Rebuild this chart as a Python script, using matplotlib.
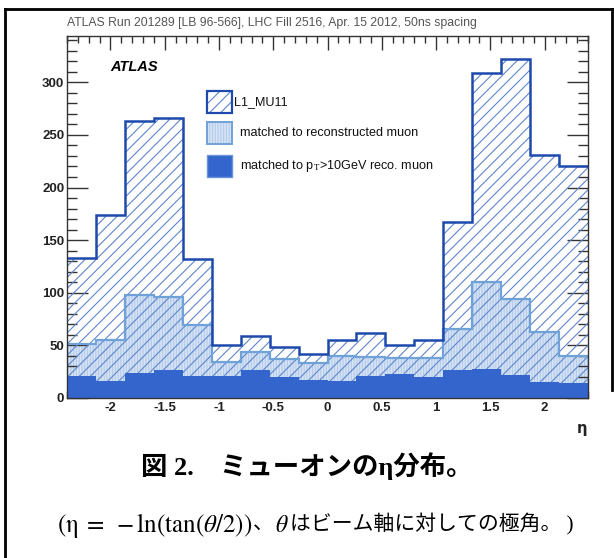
import matplotlib
matplotlib.use("Agg")
import matplotlib.pyplot as plt
from matplotlib.patches import Rectangle
from matplotlib.lines import Line2D
from matplotlib.ticker import MultipleLocator
import numpy as np

# ---------------- data ----------------
eta_edges = np.linspace(-2.4, 2.4, 19)
l1_mu11 = [133, 174, 263, 266, 132, 50, 59, 48, 42,
           55, 62, 50, 55, 167, 309, 322, 231, 220]
matched_reco = [51, 55, 98, 96, 69, 34, 44, 37, 33,
                40, 39, 38, 38, 66, 110, 94, 63, 40]
matched_pt10 = [21, 16, 24, 27, 21, 21, 27, 20, 17,
                16, 21, 23, 20, 27, 28, 22, 15, 14]
xticks = [-2, -1.5, -1, -0.5, 0, 0.5, 1, 1.5, 2]
yticks = [0, 50, 100, 150, 200, 250, 300]
legend_labels = ["L1_MU11", "matched to reconstructed muon",
                 "matched to p$_{\\mathrm{T}}$>10GeV reco. muon"]
title_text = "ATLAS Run 201289 [LB 96-566], LHC Fill 2516, Apr. 15 2012, 50ns spacing"
caption1 = "図 2.\u3000ミューオンのη分布。"
caption2_parts = [r"$(\mathrm{\eta}\;=\;-\mathrm{ln}(\mathrm{tan}(\theta/2))$",
                  "、", r"$\theta$", "はビーム軸に対しての極角。 )"]

# ---------------- style ----------------
plt.rcParams['axes.unicode_minus'] = False
plt.rcParams['hatch.linewidth'] = 0.8
plt.rcParams['mathtext.fontset'] = 'stix'
W, H = 614, 558
fig = plt.figure(figsize=(W / 100, H / 100), dpi=100)

def fx(x):
    return x / W

def fy(y):
    return 1 - y / H

ax_l, ax_r, ax_t, ax_b = 67, 588, 36, 398
ax = fig.add_axes([fx(ax_l), fy(ax_b), fx(ax_r - ax_l), (ax_b - ax_t) / H])

C_OUT_LINE = '#1d49ad'
C_OUT_HATCH = '#5f85cc'
C_MID_FILL = '#d6e3f5'
C_MID_HATCH = '#b3cbeb'
C_MID_LINE = '#6fa2d9'
C_IN = '#3465cc'

centers = 0.5 * (eta_edges[:-1] + eta_edges[1:])
widths = np.diff(eta_edges)

# middle fill
ax.bar(centers, matched_reco, width=widths, color=C_MID_FILL, edgecolor='none',
       linewidth=0, zorder=1)
ax.bar(centers, matched_reco, width=widths, fill=False, edgecolor=C_MID_HATCH,
       linewidth=0, hatch='||||||', zorder=1.5)
# outer hatch
ax.bar(centers, l1_mu11, width=widths, fill=False, edgecolor=C_OUT_HATCH,
       linewidth=0, hatch='///', zorder=2)
# inner solid
ax.bar(centers, matched_pt10, width=widths, color=C_IN, edgecolor='none',
       linewidth=0, zorder=3)
# outlines
ax.stairs(matched_reco, eta_edges, color=C_MID_LINE, linewidth=1.6,
          baseline=None, zorder=4)
ax.stairs(l1_mu11, eta_edges, color=C_OUT_LINE, linewidth=1.8,
          baseline=None, zorder=5)

ax.set_xlim(-2.4, 2.4)
ax.set_ylim(0, 344)
ax.set_xticks(xticks)
ax.set_xticklabels([('%g' % v) for v in xticks])
ax.set_yticks(yticks)
ax.set_yticklabels([('%g' % v) for v in yticks])
ax.xaxis.set_minor_locator(MultipleLocator(0.1))
ax.yaxis.set_minor_locator(MultipleLocator(10))
ax.tick_params(which='both', direction='in', top=True, right=True,
               color='#333333', width=1.0, zorder=6)
ax.tick_params(axis='x', which='major', length=10, pad=3)
ax.tick_params(axis='x', which='minor', length=5)
ax.tick_params(axis='y', which='major', length=15, pad=2)
ax.tick_params(axis='y', which='minor', length=7.5)
for lab in ax.get_xticklabels() + ax.get_yticklabels():
    lab.set_fontfamily('Liberation Sans')
    lab.set_fontweight('bold')
    lab.set_fontsize(9.5)
    lab.set_color('#222222')
for s in ax.spines.values():
    s.set_color('#333333')
    s.set_linewidth(1.0)
    s.set_zorder(7)

# top info text
fig.text(fx(67), fy(23), title_text, ha='left', va='center', fontsize=8.8,
         family='Liberation Sans', color='#555555')

# ATLAS label
fig.text(fx(134), fy(67), "ATLAS", ha='center', va='center', fontsize=10.5,
         family='Liberation Sans', fontweight='bold', fontstyle='italic')

# legend (manual)
bx, bw, bh = 207, 25, 22
boxes_y = [91, 122, 155]
r = Rectangle((fx(bx), fy(boxes_y[0] + bh)), fx(bw), bh / H, transform=fig.transFigure,
              facecolor='white', edgecolor=C_OUT_HATCH, linewidth=0, hatch='///')
fig.add_artist(r)
r = Rectangle((fx(bx), fy(boxes_y[0] + bh)), fx(bw), bh / H, transform=fig.transFigure,
              fill=False, edgecolor=C_OUT_LINE, linewidth=1.6)
fig.add_artist(r)
r = Rectangle((fx(bx), fy(boxes_y[1] + bh)), fx(bw), bh / H, transform=fig.transFigure,
              facecolor=C_MID_FILL, edgecolor='none')
fig.add_artist(r)
r = Rectangle((fx(bx), fy(boxes_y[1] + bh)), fx(bw), bh / H, transform=fig.transFigure,
              fill=False, edgecolor=C_MID_HATCH, linewidth=0, hatch='||||||')
fig.add_artist(r)
r = Rectangle((fx(bx), fy(boxes_y[1] + bh)), fx(bw), bh / H, transform=fig.transFigure,
              fill=False, edgecolor=C_MID_LINE, linewidth=1.4)
fig.add_artist(r)
r = Rectangle((fx(bx), fy(boxes_y[2] + bh)), fx(bw), bh / H, transform=fig.transFigure,
              facecolor=C_IN, edgecolor='#6b95d8', linewidth=1.0)
fig.add_artist(r)

text_x = [234, 240, 240]
for lab, y, tx in zip(legend_labels, boxes_y, text_x):
    fig.text(fx(tx), fy(y + bh / 2), lab, ha='left', va='center', fontsize=9.1,
             family='Liberation Sans', color='#111111')

# axis label eta
fig.text(fx(582), fy(429), "η", ha='center', va='center', fontsize=10.5,
         family='DejaVu Sans', fontweight='bold', color='#222222')

# captions
fig.text(0.5, fy(466), caption1, ha='center', va='center', fontsize=19,
         family=['Liberation Serif', 'Noto Sans CJK JP'], fontweight='bold')

renderer = fig.canvas.get_renderer()
cap_sizes = [18, 15, 17, 15]
cap_fams = [None, ['Liberation Serif', 'Noto Sans CJK JP'], None,
            ['Liberation Serif', 'Noto Sans CJK JP']]
x_cur = 57
for part, fs, fam in zip(caption2_parts, cap_sizes, cap_fams):
    kw = {}
    if fam is not None:
        kw['family'] = fam
    t = fig.text(fx(x_cur), fy(522), part, ha='left', va='center_baseline',
                 fontsize=fs, **kw)
    bb = t.get_window_extent(renderer=renderer)
    x_cur += bb.width + 1

# outer frame
fig.add_artist(Line2D([fx(5), fx(5)], [fy(9), fy(558)], transform=fig.transFigure,
                      color='black', linewidth=2.0))
fig.add_artist(Line2D([fx(5), fx(612)], [fy(9), fy(9)], transform=fig.transFigure,
                      color='black', linewidth=2.0))
fig.add_artist(Line2D([fx(612), fx(612)], [fy(9), fy(390)], transform=fig.transFigure,
                      color='black', linewidth=2.0))

fig.savefig("out.png", dpi=100)
